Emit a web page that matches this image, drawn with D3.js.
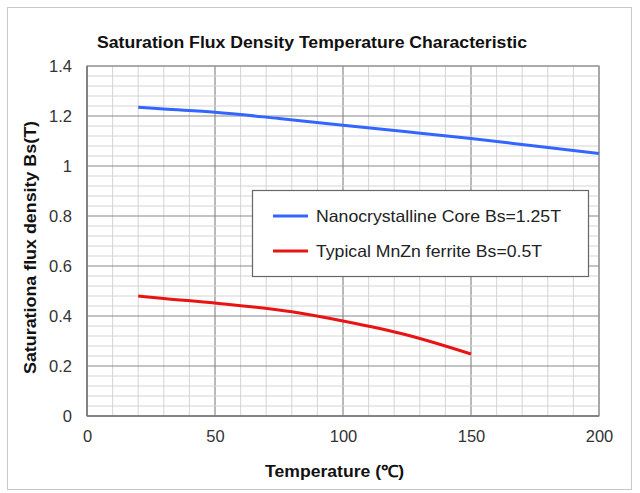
<!DOCTYPE html>
<html><head><meta charset="utf-8">
<script src="https://cdn.jsdelivr.net/npm/d3@7"></script>
<style>body{margin:0;background:#fff}svg{display:block}text{font-family:"Liberation Sans",Arial,sans-serif}</style>
</head><body>
<svg id="c" width="640" height="493"></svg>
<script>
const title = "Saturation Flux Density Temperature Characteristic";
const xLabel = "Temperature (℃)";
const yLabel = "Saturationa flux density Bs(T)";
const xTicks = [0, 50, 100, 150, 200];
const yTicks = [0, 0.2, 0.4, 0.6, 0.8, 1, 1.2, 1.4];
const seriesNames = ["Nanocrystalline Core Bs=1.25T", "Typical MnZn ferrite Bs=0.5T"];
const seriesColors = ["#3366ff", "#e81414"];
const nanoTemp = [20, 30, 50, 75, 100, 125, 150, 175, 200];
const nanoBs   = [1.235, 1.228, 1.215, 1.19, 1.163, 1.137, 1.11, 1.08, 1.05];
const ferriteTemp = [20, 30, 50, 80, 100, 125, 150];
const ferriteBs   = [0.48, 0.47, 0.452, 0.417, 0.38, 0.324, 0.248];

const svg = d3.select("#c");
const L = 87, R = 599, T = 66, B = 416;
const x = d3.scaleLinear().domain([0, 200]).range([L, R]);
const y = d3.scaleLinear().domain([0, 1.4]).range([B, T]);

// outer frame
svg.append("rect").attr("x", 7.5).attr("y", 7.5).attr("width", 624).attr("height", 482)
  .attr("fill", "#fff").attr("stroke", "#c8c8c8");

// grid
const g = svg.append("g");
d3.range(0, 201, 10).forEach(v => {
  g.append("line").attr("x1", x(v)).attr("x2", x(v)).attr("y1", T).attr("y2", B)
    .attr("stroke", v % 50 === 0 ? "#8a8a8a" : "#d4d4d4").attr("stroke-width", v % 50 === 0 ? 1.2 : 1);
});
d3.range(0, 36).forEach(i => {
  const v = i * 0.04;
  const major = i % 5 === 0;
  g.append("line").attr("x1", L).attr("x2", R).attr("y1", y(v)).attr("y2", y(v))
    .attr("stroke", major ? "#8a8a8a" : "#d4d4d4").attr("stroke-width", major ? 1.2 : 1);
});
svg.append("rect").attr("x", L).attr("y", T).attr("width", R - L).attr("height", B - T)
  .attr("fill", "none").attr("stroke", "#999").attr("stroke-width", 1.2);
svg.append("line").attr("x1", L).attr("x2", L).attr("y1", T).attr("y2", B).attr("stroke", "#777").attr("stroke-width", 1.5);
svg.append("line").attr("x1", L).attr("x2", R).attr("y1", B).attr("y2", B).attr("stroke", "#777").attr("stroke-width", 1.5);

// axes (labels only)
const xa = svg.append("g").attr("transform", `translate(0,${B})`)
  .call(d3.axisBottom(x).tickValues(xTicks).tickSize(0).tickPadding(14).tickFormat(d3.format("d")));
const ya = svg.append("g").attr("transform", `translate(${L},0)`)
  .call(d3.axisLeft(y).tickValues(yTicks).tickSize(0).tickPadding(15).tickFormat(d => d3.format("~g")(d)));
[xa, ya].forEach(a => {
  a.select(".domain").remove();
  a.selectAll("text").attr("font-size", 16.5).attr("fill", "#333")
    .attr("font-family", '"Liberation Sans",Arial,sans-serif');
});

// lines
const line = d3.line().x(d => x(d[0])).y(d => y(d[1])).curve(d3.curveMonotoneX);
svg.append("path").datum(nanoTemp.map((t, i) => [t, nanoBs[i]])).attr("d", line)
  .attr("fill", "none").attr("stroke", seriesColors[0]).attr("stroke-width", 3);
svg.append("path").datum(ferriteTemp.map((t, i) => [t, ferriteBs[i]])).attr("d", line)
  .attr("fill", "none").attr("stroke", seriesColors[1]).attr("stroke-width", 3);

// legend
const lg = svg.append("g");
lg.append("rect").attr("x", 252.5).attr("y", 190.5).attr("width", 336).attr("height", 86)
  .attr("fill", "#fff").attr("stroke", "#666").attr("stroke-width", 1.2);
const legendWidths = [245, 226];
seriesNames.forEach((n, i) => {
  const yy = 216 + i * 35;
  lg.append("line").attr("x1", 273).attr("x2", 308).attr("y1", yy).attr("y2", yy)
    .attr("stroke", seriesColors[i]).attr("stroke-width", 3);
  lg.append("text").attr("x", 316).attr("y", yy + 6).attr("font-size", 16.5).attr("fill", "#222")
    .attr("textLength", legendWidths[i]).attr("lengthAdjust", "spacingAndGlyphs").text(n);
});

// titles
svg.append("text").attr("x", 97).attr("y", 48)
  .attr("font-size", 16).attr("font-weight", "bold").attr("fill", "#111")
  .attr("textLength", 430).attr("lengthAdjust", "spacingAndGlyphs").text(title);
svg.append("text").attr("x", 265).attr("y", 477)
  .attr("font-size", 16.5).attr("font-weight", "bold").attr("fill", "#111")
  .attr("textLength", 139).attr("lengthAdjust", "spacingAndGlyphs").text(xLabel);
svg.append("text").attr("transform", `translate(36,374) rotate(-90)`)
  .attr("font-size", 16).attr("font-weight", "bold").attr("fill", "#111")
  .attr("textLength", 253).attr("lengthAdjust", "spacingAndGlyphs").text(yLabel);
</script>
</body></html>
